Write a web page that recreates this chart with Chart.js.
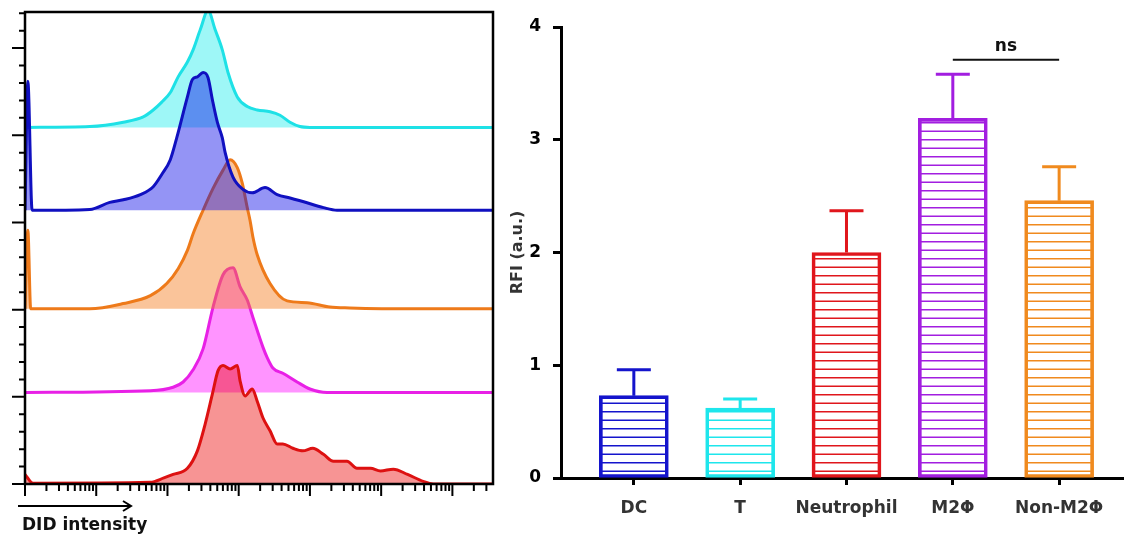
<!DOCTYPE html>
<html>
<head>
<meta charset="utf-8">
<script src="https://cdn.jsdelivr.net/npm/chart.js@4.4.1/dist/chart.umd.min.js"></script>
<style>
  body { margin: 0; background: #fff; }
  #wrap { position: relative; width: 1124px; height: 535px; overflow: hidden; }
  #histCanvas { position: absolute; left: 0; top: 0; }
  #barCanvas { position: absolute; left: 500px; top: 0; }
</style>
</head>
<body>
<div id="wrap">
  <canvas id="histCanvas" width="500" height="535"></canvas>
  <canvas id="barCanvas" width="624" height="535"></canvas>
</div>
<script>
const FONT = 'DejaVu Sans';

// ---- left panel: DiD histograms (x = log10 intensity, y = counts above each baseline) ----
const redX = [0, 0.11, 1.76, 1.95, 2.08, 2.28, 2.42, 2.53, 2.63, 2.71, 2.78, 2.88, 2.98, 3.02, 3.09, 3.19, 3.26, 3.34, 3.44, 3.54, 3.62, 3.76, 3.90, 4.04, 4.19, 4.33, 4.52, 4.66, 4.85, 4.99, 5.17, 5.37, 5.59, 5.73, 6.57];
const redCounts = [11, 1, 2, 7, 11, 18, 38, 69, 103, 130, 136, 132, 136, 118, 101, 109, 95, 76, 61, 46, 46, 41, 38, 41, 34, 26, 26, 18, 18, 15, 17, 11, 3, 0, 0];

const magentaX = [0, 1.76, 2.08, 2.22, 2.36, 2.50, 2.64, 2.78, 2.92, 3.02, 3.12, 3.20, 3.34, 3.40, 3.48, 3.62, 3.82, 4.00, 4.24, 6.57];
const magentaCounts = [0, 2, 6, 12, 26, 50, 98, 135, 143, 121, 106, 86, 52, 40, 28, 22, 12, 4, 0, 0];

const orangeX = [0, 0.04, 0.08, 0.91, 1.38, 1.76, 1.99, 2.15, 2.28, 2.36, 2.50, 2.64, 2.78, 2.88, 2.98, 3.05, 3.12, 3.16, 3.20, 3.26, 3.44, 3.68, 3.96, 4.28, 4.56, 5.5, 6.57];
const orangeCounts = [0, 90, 0, 0, 6, 15, 29, 46, 67, 86, 113, 138, 159, 171, 162, 144, 116, 101, 82, 62, 29, 9, 7, 2, 1, 0, 0];

const blueX = [0, 0.04, 0.10, 0.91, 1.19, 1.38, 1.62, 1.80, 1.92, 2.04, 2.13, 2.28, 2.35, 2.42, 2.50, 2.57, 2.63, 2.70, 2.77, 2.81, 2.92, 3.06, 3.19, 3.37, 3.54, 3.72, 3.90, 4.19, 4.38, 6.57];
const blueCounts = [0, 148, 0, 1, 9, 12, 18, 27, 41, 58, 83, 130, 150, 153, 158, 152, 127, 101, 83, 66, 38, 24, 20, 26, 18, 14, 10, 3, 0, 0];

const cyanX = [0, 0.91, 1.38, 1.66, 1.80, 1.92, 2.04, 2.15, 2.28, 2.36, 2.46, 2.57, 2.67, 2.77, 2.85, 2.98, 3.12, 3.26, 3.44, 3.58, 3.72, 3.86, 4.00, 6.57];
const cyanCounts = [0, 1, 6, 12, 20, 29, 40, 58, 75, 89, 112, 134, 112, 89, 63, 35, 24, 20, 18, 14, 6, 1, 0, 0];

// baseline offset of each stacked histogram (red, magenta, orange, blue, cyan)
const histOffsets = [0, 105, 201, 314, 409];
const histDecades = [0, 1, 2, 3, 4, 5, 6];
const histXMax = 6.57;
const histYMax = 541.4;

// ---- right panel: RFI bars ----
const categories = ['DC', 'T', 'Neutrophil', 'M2Φ', 'Non-M2Φ'];
const rfiMean = [0.73, 0.62, 2.0, 3.19, 2.46];
const rfiSd = [0.23, 0.08, 0.37, 0.39, 0.30];
const barColors = ['#1414cc', '#1ee6ec', '#e0161c', '#a21ee0', '#f08a1e'];
const rfiTicks = [0, 1, 2, 3, 4];
const nsPair = [3, 4];
const nsLevel = 3.71;

function series(xs, counts, offset) {
  return xs.map((x, i) => ({ x, y: offset + counts[i] }));
}

function histSet(xs, counts, offset, line, fill, order) {
  return {
    data: series(xs, counts, offset),
    borderColor: line,
    backgroundColor: fill,
    borderWidth: 3,
    pointRadius: 0,
    cubicInterpolationMode: 'monotone',
    borderJoinStyle: 'round',
    fill: { value: offset },
    order
  };
}

const histFrame = {
  id: 'histFrame',
  afterDraw(chart) {
    const { ctx, chartArea: a, scales: { x, y } } = chart;
    ctx.save();
    ctx.strokeStyle = '#000';
    ctx.lineWidth = 2;
    ctx.beginPath();
    histDecades.forEach((d) => {
      const px = x.getPixelForValue(d);
      ctx.moveTo(px, a.bottom);
      ctx.lineTo(px, a.bottom + 12);
      for (let k = 2; k <= 9; k++) {
        const v = d + Math.log10(k);
        if (v > x.max) break;
        const p = x.getPixelForValue(v);
        ctx.moveTo(p, a.bottom);
        ctx.lineTo(p, a.bottom + 7);
      }
    });
    for (let c = 0; c <= y.max; c += 20) {
      const py = y.getPixelForValue(c);
      const len = c % 100 === 0 ? 13 : 6;
      ctx.moveTo(a.left, py);
      ctx.lineTo(a.left - len, py);
    }
    ctx.stroke();

    ctx.lineWidth = 2.5;
    ctx.strokeRect(a.left, a.top, a.right - a.left, a.bottom - a.top);

    // axis arrow + label
    ctx.lineWidth = 2;
    ctx.beginPath();
    ctx.moveTo(18, 506);
    ctx.lineTo(131, 506);
    ctx.moveTo(123, 501);
    ctx.lineTo(131, 506);
    ctx.lineTo(123, 511);
    ctx.stroke();
    ctx.fillStyle = '#111';
    ctx.font = `bold 17px "${FONT}"`;
    ctx.textBaseline = 'alphabetic';
    ctx.fillText('DID intensity', 22, 530);
    ctx.restore();
  }
};

new Chart(document.getElementById('histCanvas'), {
  type: 'line',
  data: {
    datasets: [
      histSet(cyanX, cyanCounts, histOffsets[4], '#1ee1e6', 'rgba(0,235,235,0.38)', 4),
      histSet(magentaX, magentaCounts, histOffsets[1], '#e820e6', 'rgba(255,0,255,0.42)', 3),
      histSet(redX, redCounts, histOffsets[0], '#dd1111', 'rgba(235,0,0,0.42)', 2),
      histSet(orangeX, orangeCounts, histOffsets[2], '#ee7a1a', 'rgba(245,125,30,0.45)', 1),
      histSet(blueX, blueCounts, histOffsets[3], '#1010c0', 'rgba(0,0,230,0.42)', 0)
    ]
  },
  options: {
    responsive: false,
    animation: false,
    events: [],
    layout: { padding: { left: 25, right: 7, top: 12, bottom: 51 } },
    plugins: { legend: { display: false }, tooltip: { enabled: false } },
    scales: {
      x: { type: 'linear', min: 0, max: histXMax, display: false },
      y: { type: 'linear', min: 0, max: histYMax, display: false }
    }
  },
  plugins: [histFrame]
});

// ---- bar chart helpers ----
const barCanvas = document.getElementById('barCanvas');
const barCtx = barCanvas.getContext('2d');

function hatch(color) {
  const c = document.createElement('canvas');
  c.width = 8;
  c.height = 17;
  const g = c.getContext('2d');
  g.fillStyle = color;
  g.fillRect(0, 3, 8, 1.5);
  g.fillRect(0, 11.5, 8, 1.5);
  return barCtx.createPattern(c, 'repeat');
}

const errorBars = {
  id: 'errorBars',
  afterDatasetsDraw(chart) {
    const { ctx, scales: { y } } = chart;
    const meta = chart.getDatasetMeta(0);
    ctx.save();
    ctx.lineWidth = 3;
    meta.data.forEach((bar, i) => {
      const top = y.getPixelForValue(rfiMean[i] + rfiSd[i]);
      ctx.strokeStyle = barColors[i];
      ctx.beginPath();
      ctx.moveTo(bar.x, bar.y);
      ctx.lineTo(bar.x, top);
      ctx.moveTo(bar.x - 17, top);
      ctx.lineTo(bar.x + 17, top);
      ctx.stroke();
    });
    ctx.restore();
  }
};

const nsMark = {
  id: 'nsMark',
  afterDatasetsDraw(chart) {
    const { ctx, scales: { x, y } } = chart;
    const x0 = x.getPixelForValue(nsPair[0]);
    const x1 = x.getPixelForValue(nsPair[1]);
    const py = y.getPixelForValue(nsLevel);
    ctx.save();
    ctx.strokeStyle = '#111';
    ctx.lineWidth = 2;
    ctx.beginPath();
    ctx.moveTo(x0, py);
    ctx.lineTo(x1, py);
    ctx.stroke();
    ctx.fillStyle = '#111';
    ctx.font = `bold 17px "${FONT}"`;
    ctx.textAlign = 'center';
    ctx.textBaseline = 'middle';
    ctx.fillText('ns', (x0 + x1) / 2, py - 13);
    ctx.restore();
  }
};

new Chart(barCanvas, {
  type: 'bar',
  data: {
    datasets: [{
      data: categories.map((c, i) => ({ x: i, y: rfiMean[i] })),
      backgroundColor: barColors.map((c) => hatch(c)),
      borderColor: barColors,
      borderWidth: 3,
      borderSkipped: false,
      barThickness: 69
    }]
  },
  options: {
    responsive: false,
    animation: false,
    events: [],
    layout: { padding: { top: 27, left: 0, right: 0, bottom: 0 } },
    plugins: { legend: { display: false }, tooltip: { enabled: false } },
    scales: {
      x: {
        type: 'linear',
        min: -0.685,
        max: 4.61,
        offset: false,
        afterBuildTicks: (s) => { s.ticks = categories.map((_, i) => ({ value: i })); },
        afterFit: (s) => { s.height = 57; },
        grid: { offset: false, drawOnChartArea: false, tickLength: 7, tickWidth: 3, tickColor: '#000' },
        border: { color: '#000', width: 3 },
        ticks: {
          callback: (v) => categories[v],
          autoSkip: false,
          maxRotation: 0,
          padding: 13,
          color: '#333',
          font: { family: FONT, size: 17, weight: 'bold' }
        }
      },
      y: {
        min: 0,
        max: 4,
        afterBuildTicks: (s) => { s.ticks = rfiTicks.map((v) => ({ value: v })); },
        afterFit: (s) => { s.width = 61; },
        grid: { drawOnChartArea: false, tickLength: 8, tickWidth: 3, tickColor: '#000' },
        border: { color: '#000', width: 3 },
        ticks: { padding: 12, color: '#000', font: { family: FONT, size: 17, weight: 'bold' } },
        title: {
          display: true,
          text: 'RFI (a.u.)',
          color: '#333',
          padding: { top: 8, bottom: 0 },
          font: { family: FONT, size: 16, weight: 'bold' }
        }
      }
    }
  },
  plugins: [errorBars, nsMark]
});
</script>
</body>
</html>
